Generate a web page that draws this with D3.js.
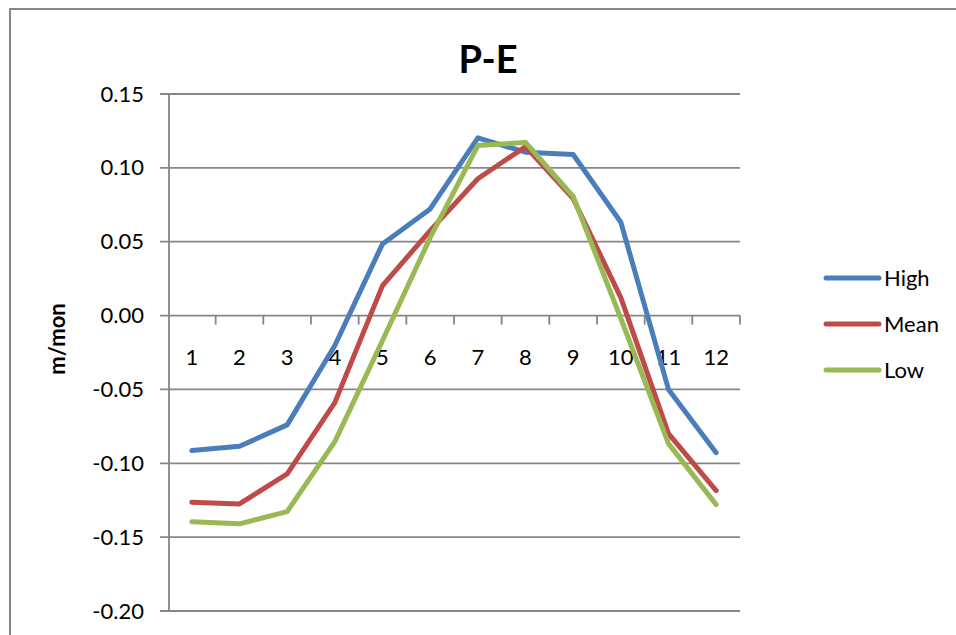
<!DOCTYPE html>
<html><head><meta charset="utf-8">
<script src="https://cdn.jsdelivr.net/npm/d3@7"></script>
<style>
html,body{margin:0;padding:0;background:#fff;}
svg{display:block;font-family:Lato,"Open Sans",sans-serif;}
</style></head>
<body>
<svg id="chart" width="956" height="635"></svg>
<script>
const months = ["1","2","3","4","5","6","7","8","9","10","11","12"];
const high = [-0.0914,-0.0885,-0.0740,-0.0203,0.0485,0.0722,0.1203,0.1106,0.1090,0.0632,-0.0500,-0.0928];
const mean = [-0.1264,-0.1275,-0.1072,-0.0589,0.0203,0.0575,0.0926,0.1144,0.0792,0.0122,-0.0799,-0.1185];
const low  = [-0.1395,-0.1410,-0.1327,-0.0853,-0.0169,0.0528,0.1151,0.1172,0.0806,-0.0020,-0.0867,-0.1280];
const seriesNames = ["High","Mean","Low"];
const seriesColors = ["#4a7ebb","#be4b48","#98b954"];
const yTicks = [0.15,0.10,0.05,0.00,-0.05,-0.10,-0.15,-0.20];
const title = "P-E";
const yLabel = "m/mon";

const series = [high, mean, low];
const svg = d3.select("#chart");
const gridColor = "#868686";
const fmt = d => d3.format(".2f")(d).replace("\u2212","-");

// outer chart border (extends beyond view)
svg.append("rect").attr("x",10).attr("y",9).attr("width",1000).attr("height",700)
  .attr("fill","none").attr("stroke",gridColor).attr("stroke-width",2);

const x = d3.scaleBand().domain(months).range([168,740]).padding(0);
const y = d3.scaleLinear().domain([-0.20,0.15]).range([611,94]);

// gridlines + y tick marks
svg.append("g").selectAll("line").data(yTicks).join("line")
  .attr("x1",160).attr("x2",740)
  .attr("y1",d=>y(d)).attr("y2",d=>y(d))
  .attr("stroke",gridColor).attr("stroke-width",1.8);

// y axis line
svg.append("line").attr("x1",169).attr("x2",169).attr("y1",y(0.15)).attr("y2",y(-0.20))
  .attr("stroke",gridColor).attr("stroke-width",1.8);

// y tick labels
svg.append("g").selectAll("text").data(yTicks).join("text")
  .attr("x",144).attr("y",d=>y(d)+7.5)
  .attr("text-anchor","end").attr("font-size",22).attr("fill","#000")
  .text(fmt);

// x axis tick marks at category boundaries
const bounds = months.map(m=>x(m)+x.bandwidth());
svg.append("g").selectAll("line").data(bounds).join("line")
  .attr("x1",d=>d).attr("x2",d=>d).attr("y1",y(0)).attr("y2",y(0)+9)
  .attr("stroke",gridColor).attr("stroke-width",1.8);

// x labels
svg.append("g").selectAll("text").data(months).join("text")
  .attr("x",d=>x(d)+x.bandwidth()/2).attr("y",365)
  .attr("text-anchor","middle").attr("font-size",22).attr("fill","#000")
  .text(d=>d);

// lines
const line = d3.line().x((d,i)=>x(months[i])+x.bandwidth()/2).y(d=>y(d));
series.forEach((s,k)=>{
  svg.append("path").datum(s).attr("d",line)
    .attr("fill","none").attr("stroke",seriesColors[k]).attr("stroke-width",5)
    .attr("stroke-linejoin","round").attr("stroke-linecap","round");
});

// title
svg.append("text").attr("x",488).attr("y",73).attr("text-anchor","middle")
  .attr("font-size",38).attr("font-weight","bold").text(title);

// y label
svg.append("text").attr("transform","translate(65,339) rotate(-90)")
  .attr("text-anchor","middle").attr("font-size",22).attr("font-weight","bold").text(yLabel);

// legend
const lg = svg.append("g");
seriesNames.forEach((n,k)=>{
  const ly = 278 + k*46;
  lg.append("line").attr("x1",826).attr("x2",879).attr("y1",ly).attr("y2",ly)
    .attr("stroke",seriesColors[k]).attr("stroke-width",5).attr("stroke-linecap","round");
  lg.append("text").attr("x",884).attr("y",ly+8).attr("font-size",22).text(n);
});
</script>
</body></html>
